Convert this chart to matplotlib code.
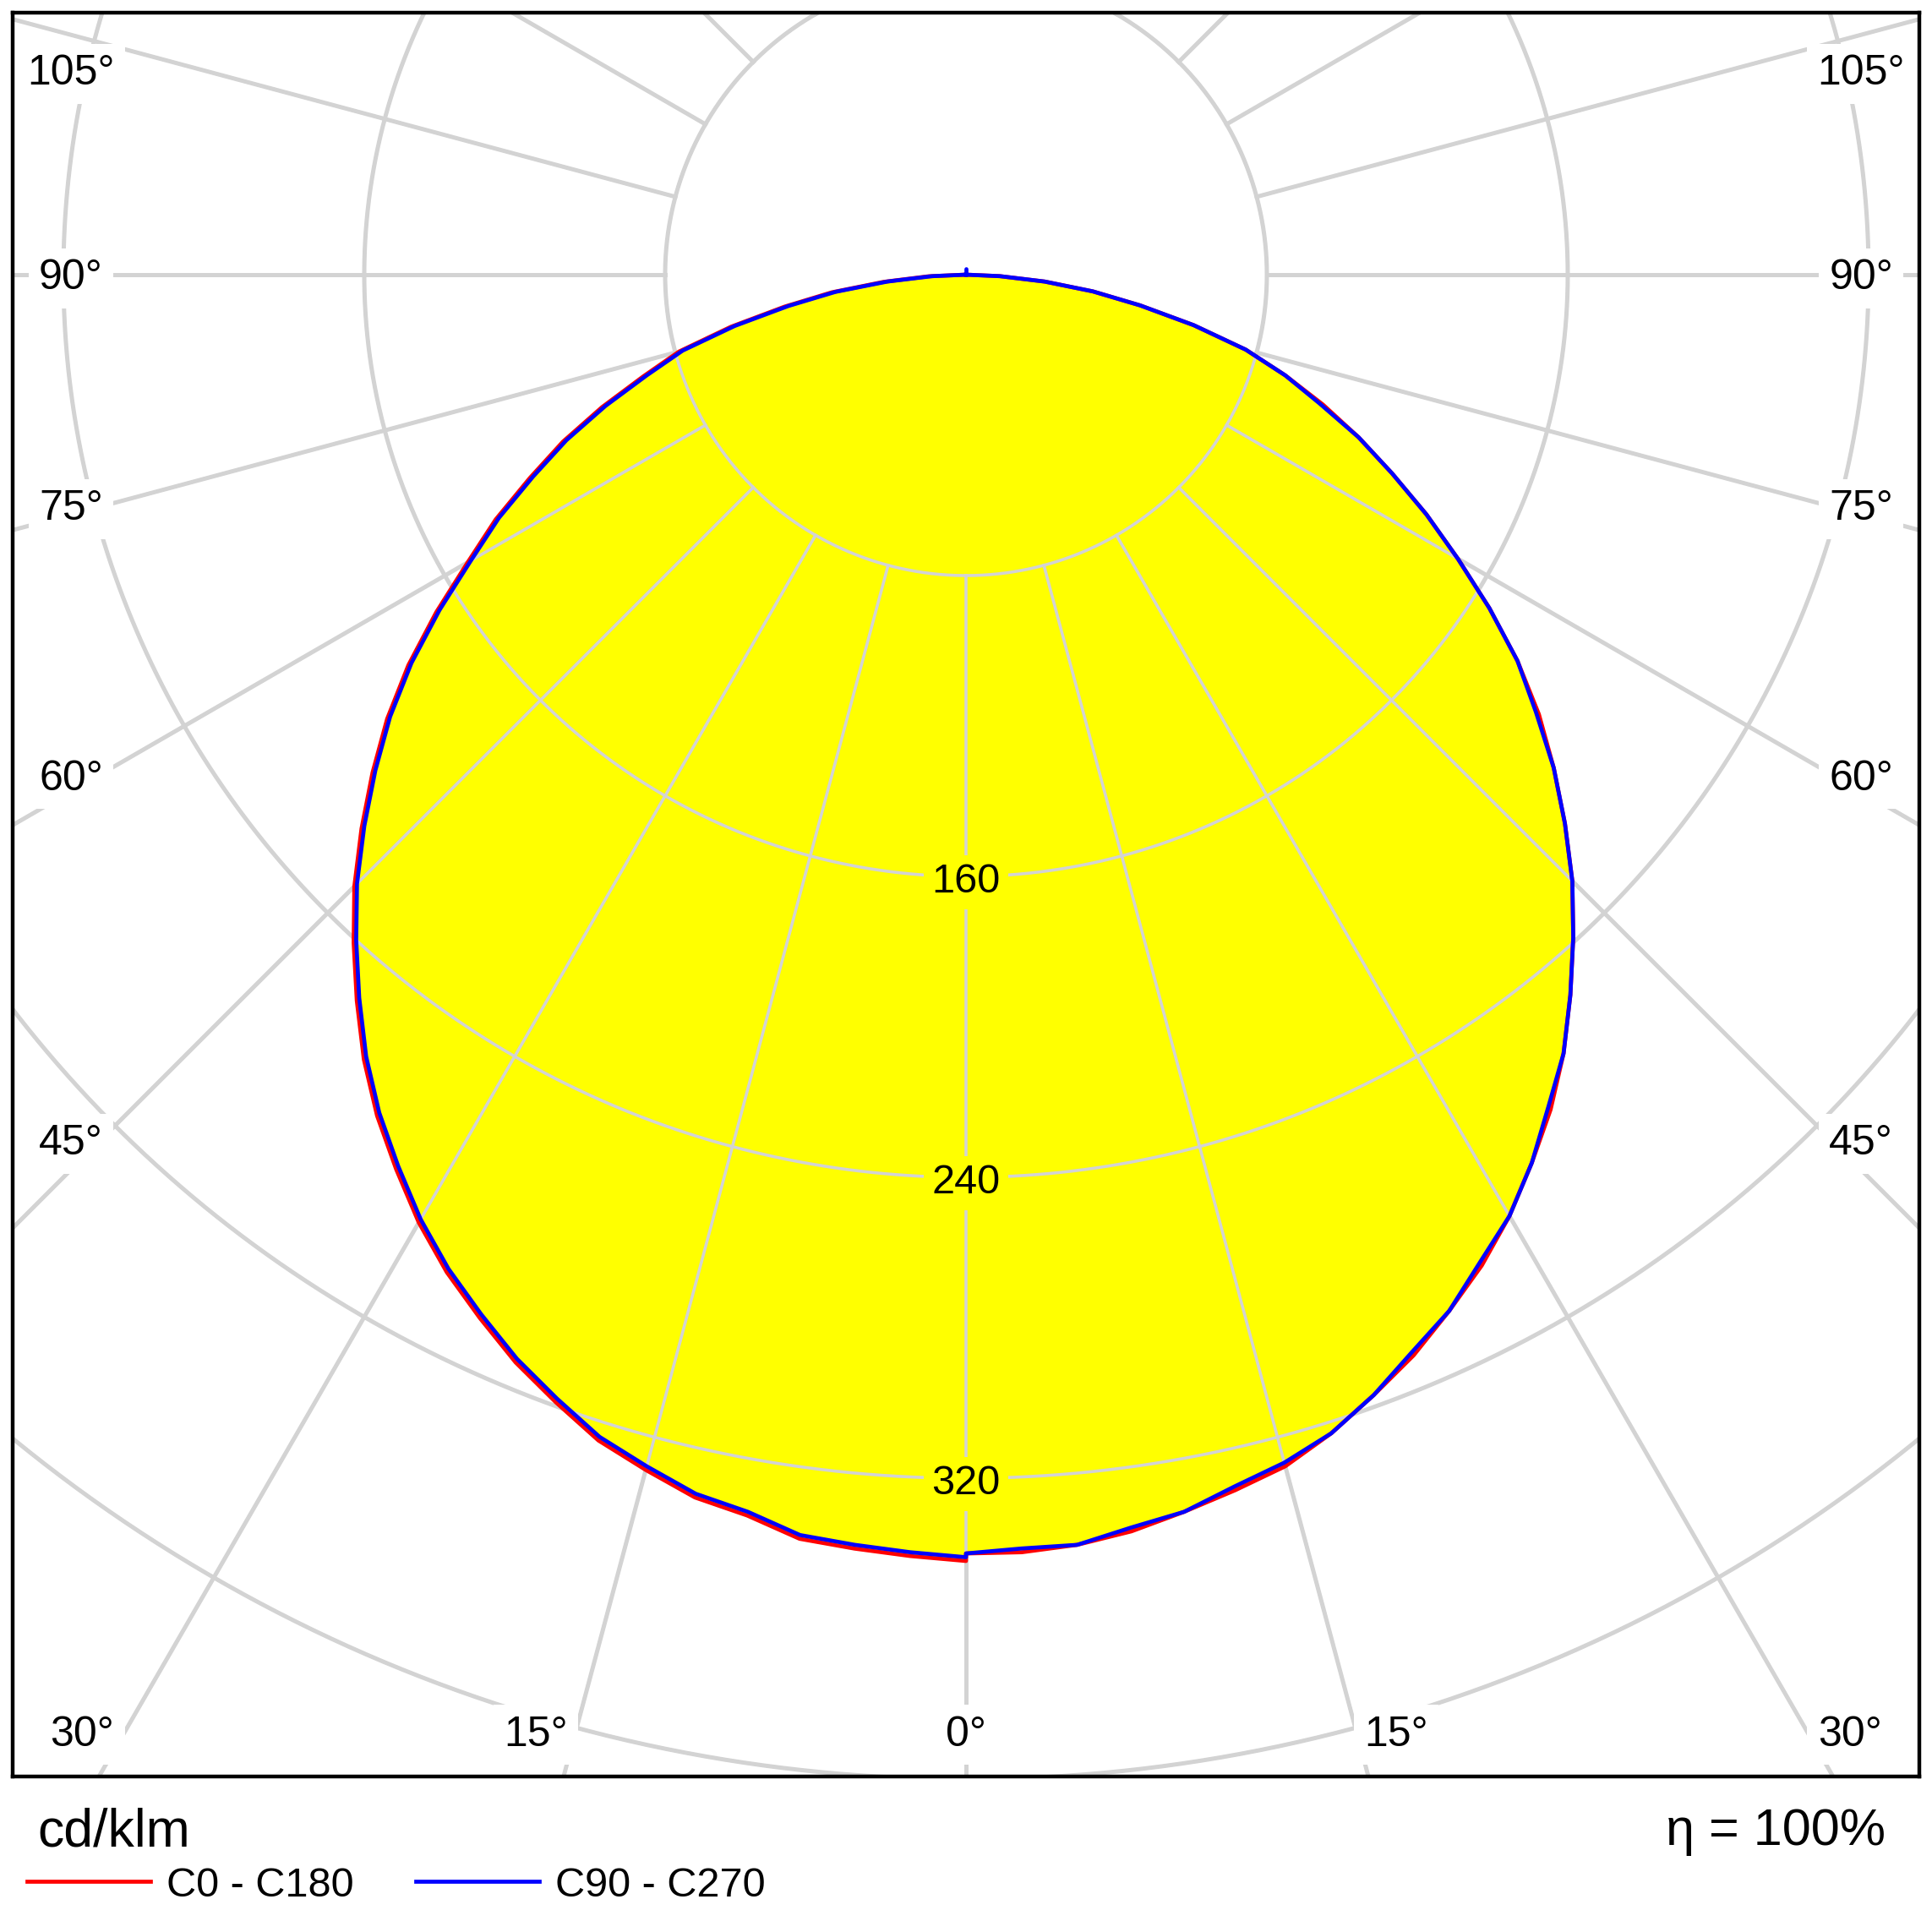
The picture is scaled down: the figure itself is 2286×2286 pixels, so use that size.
import numpy as np
import matplotlib
matplotlib.use("Agg")
import matplotlib.pyplot as plt
from matplotlib.lines import Line2D

plt.rcParams['font.family'] = ['Liberation Sans', 'DejaVu Sans']

# luminous intensity (cd/klm) vs gamma angle
gamma = [0, 2.5, 5, 7.5, 10, 12.5, 15, 17.5, 20, 22.5, 25, 27.5, 30, 32.5, 35, 37.5,
         40, 42.5, 45, 47.5, 50, 52.5, 55, 57.5, 60, 62.5, 65, 67.5, 70, 72.5, 75,
         77.5, 80, 82.5, 85, 87.5, 90]
c0 = [340, 340, 339, 337, 334, 331, 328, 323, 317, 311, 304, 297, 289, 280, 271, 261,
      250, 239, 228, 216, 204, 192, 179, 165, 151, 138, 125, 113, 101, 89, 77,
      62, 47, 34, 21, 9, 0]
c180 = [342, 341, 340, 339, 335, 333, 329, 325, 319, 313, 306, 299, 291, 282, 273, 263,
        252, 241, 230, 218, 206, 194, 181, 167, 153, 141, 128, 116, 103, 90, 79,
        64, 49, 36, 22, 10, 0]
c90 = [340, 339, 339, 336, 334, 330, 327, 323, 317, 310, 304, 296, 289, 280, 270, 261,
       250, 239, 228, 216, 204, 191, 179, 165, 151, 138, 125, 113, 100, 89, 77,
       62, 47, 34, 21, 9, 0]
c270 = [341, 340, 339, 338, 334, 332, 328, 324, 318, 312, 305, 298, 290, 281, 272, 262,
        251, 240, 229, 217, 205, 193, 180, 166, 152, 140, 127, 115, 102, 89, 78,
        63, 48, 35, 21, 9, 0]
# tiny blip straight up on the C90-C270 curve
gamma_up = [90, 135, 180]
c90_up = [0, 0, 1.5]

ring_values = [80, 160, 240, 320, 400, 480]
ring_labels = ['160', '240', '320']
angle_labels = ['105°', '90°', '75°', '60°', '45°', '30°', '15°', '0°']
angle_label_pos = [(238, 53.4), (238, -1), (238, -62.3), (238, -134.1),
                   (238, -231.1), (235, -388.2), (114.4, -388.2), (0, -388.2)]
legend_names = ['C0 - C180', 'C90 - C270']
efficiency = 100

GRID = '#d3d3d3'


def to_xy(g, vals, side):
    t = np.radians(np.asarray(g, dtype=float))
    r = np.asarray(vals, dtype=float)
    return side * r * np.sin(t), -r * np.cos(t)


def curve(g, right, left):
    xr, yr = to_xy(g, right, 1)
    xl, yl = to_xy(g, left, -1)
    return np.concatenate([xl[::-1], xr]), np.concatenate([yl[::-1], yr])


def draw_grid(ax, lw, z):
    t = np.linspace(0, 2 * np.pi, 1441)
    for r in ring_values:
        ax.plot(r * np.sin(t), -r * np.cos(t), color=GRID, lw=lw, zorder=z)
    for a in range(-180, 181, 15):
        ar = np.radians(a)
        ax.plot([80 * np.sin(ar), 800 * np.sin(ar)], [-80 * np.cos(ar), -800 * np.cos(ar)],
                color=GRID, lw=lw, zorder=z)


fig = plt.figure(figsize=(22.86, 22.86), dpi=100)
ax = fig.add_axes([15 / 2286, 1 - 2102 / 2286, 2256 / 2286, 2087 / 2286])
ax.set_xlim(-253.48, 253.48)
ax.set_ylim(-399.3, 69.66)
ax.set_xticks([])
ax.set_yticks([])
for s in ax.spines.values():
    s.set_linewidth(3.2)
    s.set_color('black')
    s.set_zorder(10)

# heavier grid outside the light distribution, lighter one on top of the fill
draw_grid(ax, 3.6, 0.5)

rx, ry = curve(gamma, c0, c180)
bx, by = curve(gamma, c90, c270)
ux, uy = to_xy(gamma_up, c90_up, 1)
ax.fill(rx, ry, color='#ffff00', lw=0, zorder=1)
draw_grid(ax, 2.6, 2)
ax.plot(rx, ry, color='#ff0000', lw=3.4, zorder=4, solid_joinstyle='round')
ax.plot(bx, by, color='#0000ff', lw=3.4, zorder=5, solid_joinstyle='round')
ax.plot(ux, uy, color='#0000ff', lw=3.4, zorder=5, solid_capstyle='round')

# value labels on the 0 deg axis
for lab in ring_labels:
    ax.text(0, -float(lab) - 1.5, lab, ha='center', va='center', fontsize=35, zorder=6,
            bbox=dict(boxstyle='square,pad=0.2', fc='#ffff00', ec='none'))

# angle labels on both sides
for lab, (x, y) in zip(angle_labels, angle_label_pos):
    sides = [1] if x == 0 else [-1, 1]
    for sd in sides:
        ax.text(sd * x, y, lab, ha='center', va='center', fontsize=36, zorder=6,
                bbox=dict(boxstyle='square,pad=0.25', fc='white', ec='none'))

fig.text(44 / 2286, 1 - 2168 / 2286, 'cd/klm', ha='left', va='center', fontsize=45)
fig.text(2231 / 2286, 1 - 2168 / 2286, f'η = {efficiency}%', ha='right', va='center', fontsize=44)

handles = [Line2D([], [], color='#ff0000', lw=3.4), Line2D([], [], color='#0000ff', lw=3.4)]
fig.legend(handles, legend_names, loc='center left', bbox_to_anchor=(32 / 2286, 1 - 2231 / 2286),
           ncol=2, frameon=False, fontsize=35, handlelength=3.0, handletextpad=0.4,
           columnspacing=1.5, borderpad=0, borderaxespad=0)

fig.savefig('out.png', dpi=100)
